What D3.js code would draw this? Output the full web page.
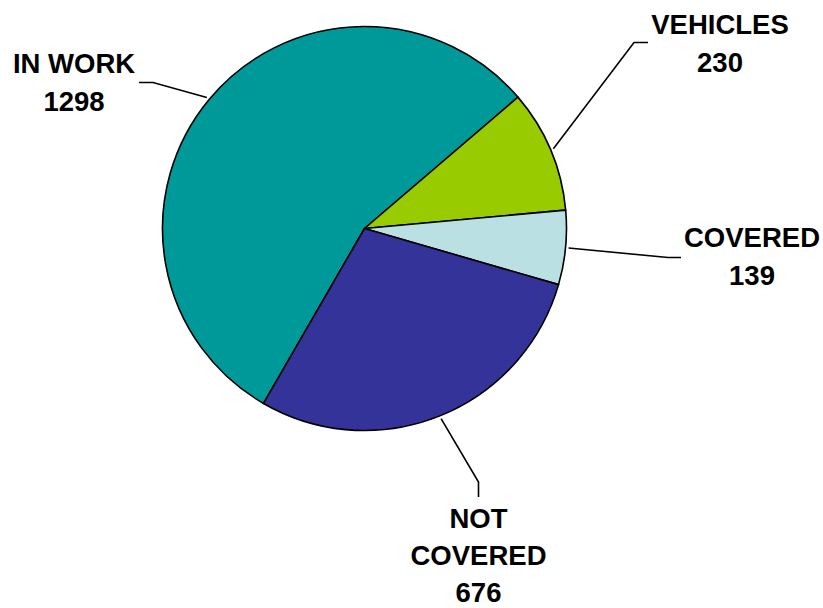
<!DOCTYPE html>
<html><head><meta charset="utf-8">
<script src="https://cdn.jsdelivr.net/npm/d3@7"></script>
<style>html,body{margin:0;padding:0;background:#fff;}svg{display:block;}</style>
</head><body>
<svg id="chart" width="823" height="608"></svg>
<script>
// Data
const categories = ["IN WORK", "VEHICLES", "COVERED", "NOT COVERED"];
const values = [1298, 230, 139, 676];
const colors = ["#009999", "#99CC00", "#BBE0E3", "#333399"];

// Layout (label placement)
const labelLayout = [
  {lines: ["IN WORK", "1298"], x: 74, y: 73, gap: 38, elbow: [[153, 82.5], [139, 82.5]]},
  {lines: ["VEHICLES", "230"], x: 720, y: 34, gap: 38, elbow: [[634, 42.5], [648, 42.5]]},
  {lines: ["COVERED", "139"], x: 752, y: 247, gap: 38, elbow: [[668, 257.5], [681, 257.5]]},
  {lines: ["NOT", "COVERED", "676"], x: 478.5, y: 528, gap: 37, elbow: [[478.5, 482], [478.5, 497]]}
];

const cx = 364.5, cy = 228.5, r = 202;
const svg = d3.select("#chart");
const g = svg.append("g").attr("transform", `translate(${cx},${cy})`);

const start = -150 * Math.PI / 180;
const pie = d3.pie().sort(null).value(d => d.v)
  .startAngle(start).endAngle(start + 2 * Math.PI);
const data = categories.map((c, i) => ({c, v: values[i], color: colors[i], i}));
const arcs = pie(data);
const arc = d3.arc().innerRadius(0).outerRadius(r);

g.selectAll("path.slice").data(arcs).enter().append("path")
  .attr("class", "slice")
  .attr("d", arc)
  .attr("fill", d => d.data.color)
  .attr("stroke", "#000")
  .attr("stroke-width", 1.6)
  .attr("stroke-linejoin", "round");

// leader lines and labels
arcs.forEach((a, i) => {
  const L = labelLayout[i];
  const mid = (a.startAngle + a.endAngle) / 2;
  const rr = r + 3;
  const p0 = [cx + rr * Math.sin(mid), cy - rr * Math.cos(mid)];
  const pts = [p0].concat(L.elbow);
  svg.append("path")
    .attr("d", d3.line()(pts))
    .attr("fill", "none")
    .attr("stroke", "#000")
    .attr("stroke-width", 1.6);
  const t = svg.append("text")
    .attr("text-anchor", "middle")
    .attr("font-family", "Liberation Sans, Arial, sans-serif")
    .attr("font-weight", "bold")
    .attr("font-size", "27.5px")
    .attr("fill", "#000");
  L.lines.forEach((ln, j) => {
    t.append("tspan").attr("x", L.x).attr("y", L.y + j * L.gap).text(ln);
  });
});
</script>
</body></html>
